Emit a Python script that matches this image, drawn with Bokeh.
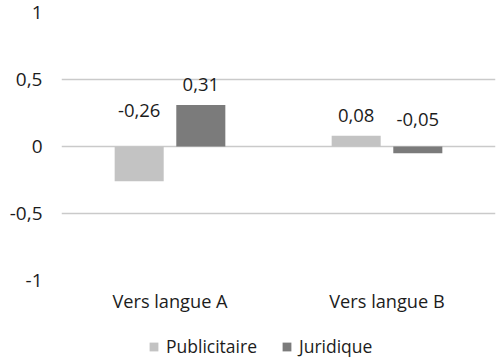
from bokeh.plotting import figure
from bokeh.layouts import column
from bokeh.models import ColumnDataSource, FactorRange, Legend, LegendItem, CustomJSTickFormatter, FixedTicker
from bokeh.transform import dodge
from bokeh.embed import file_html
from bokeh.resources import INLINE

categories = ["Vers langue A", "Vers langue B"]
series_names = ["Publicitaire", "Juridique"]
publicitaire = [-0.26, 0.08]
juridique = [0.31, -0.05]
y_ticks = [-1, -0.5, 0, 0.5, 1]

colors = ["#c3c3c3", "#7b7b7b"]
offsets = [-0.142, 0.142]
FONT = "Open Sans"
TEXT_COLOR = "#1c1c1c"

p = figure(x_range=FactorRange(*categories), y_range=(-1, 1),
           width=500, height=316, output_backend="svg", toolbar_location=None,
           min_border_left=61, min_border_right=5, min_border_top=12, min_border_bottom=36)
p.outline_line_color = None
p.background_fill_color = "white"
p.border_fill_color = "white"

def fmt(v):
    return ("%.2f" % v).replace(".", ",")

sources = []
for name, vals, col, off in zip(series_names, [publicitaire, juridique], colors, offsets):
    lab_y = [v + 0.149 if v >= 0 else 0.186 + 0.312 * abs(v) for v in vals]
    src = ColumnDataSource(dict(cat=categories, val=vals, lab=[fmt(v) for v in vals], lab_y=lab_y))
    sources.append(src)
    p.vbar(x=dodge("cat", off, range=p.x_range), top="val", bottom=0, width=0.226,
           source=src, fill_color=col, line_color=None)
    p.text(x=dodge("cat", off, range=p.x_range), y="lab_y", text="lab", source=src,
           text_align="center", text_baseline="middle", text_font_size="18.5px",
           text_font={"value": FONT}, text_color=TEXT_COLOR)

# grid
p.xgrid.grid_line_color = None
p.ygrid.ticker = FixedTicker(ticks=y_ticks)
p.ygrid.grid_line_color = "#cacaca"
p.ygrid.grid_line_width = 1.6

# y axis
p.yaxis.ticker = FixedTicker(ticks=y_ticks)
p.yaxis.formatter = CustomJSTickFormatter(code="return tick.toString().replace('.', ',');")
p.yaxis.axis_line_color = None
p.yaxis.major_tick_line_color = None
p.yaxis.minor_tick_line_color = None
p.yaxis.major_tick_out = 0
p.yaxis.major_tick_in = 0
p.yaxis.major_label_orientation = 0.0
p.yaxis.major_label_standoff = 19
p.yaxis.major_label_text_align = "right"
p.yaxis.major_label_text_font = FONT
p.yaxis.major_label_text_font_size = "19px"
p.yaxis.major_label_text_color = TEXT_COLOR

# x axis
p.xaxis.axis_line_color = None
p.xaxis.major_tick_line_color = None
p.xaxis.minor_tick_line_color = None
p.xaxis.major_tick_out = 0
p.xaxis.major_tick_in = 0
p.xaxis.major_label_standoff = 8
p.xaxis.major_label_text_font = FONT
p.xaxis.major_label_text_font_size = "18.2px"
p.xaxis.major_label_text_color = TEXT_COLOR

# legend strip below the chart
lg = figure(width=500, height=45, x_range=FactorRange(*categories), y_range=(-1, 1),
            output_backend="svg", toolbar_location=None,
            min_border_left=61, min_border_right=5, min_border_top=0, min_border_bottom=0)
lg.axis.visible = False
lg.grid.visible = False
lg.outline_line_color = None
lg.border_fill_color = "white"
lg.background_fill_color = "white"
leg_renderers = []
for src, col in zip(sources, colors):
    r = lg.vbar(x="cat", top="val", width=0.2, source=src, fill_color=col, line_color=None)
    r.visible = False
    leg_renderers.append(r)

legend = Legend(items=[LegendItem(label=n, renderers=[r]) for n, r in zip(series_names, leg_renderers)],
                orientation="horizontal", location=(87, 3))
legend.border_line_color = None
legend.background_fill_alpha = 0
legend.inactive_fill_alpha = 0
legend.padding = 0
legend.margin = 0
legend.spacing = 24
legend.glyph_width = 11
legend.glyph_height = 11
legend.label_standoff = 7
legend.label_height = 20
legend.label_text_font = FONT
legend.label_text_font_size = "17.5px"
legend.label_text_color = TEXT_COLOR
legend.label_text_baseline = "middle"
lg.add_layout(legend, "center")

layout = column(p, lg, spacing=0)
open("out.html", "w").write(file_html(layout, INLINE))
